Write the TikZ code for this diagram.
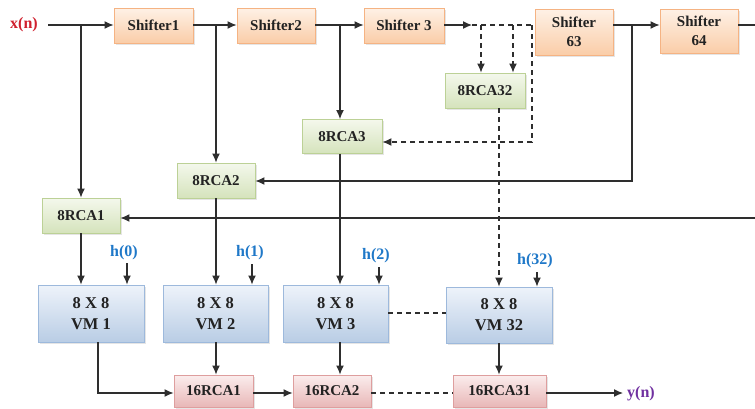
\documentclass[tikz,border=0pt]{standalone}
\usepackage{fontspec}
\setmainfont{Liberation Serif}
\usetikzlibrary{arrows.meta,shadows}
\definecolor{lnc}{HTML}{2E2E2E}
\definecolor{txc}{HTML}{222222}
\definecolor{xred}{HTML}{D0202E}
\definecolor{hblue}{HTML}{1F78C8}
\definecolor{ypur}{HTML}{7030A0}
\definecolor{orT}{HTML}{FEF1E6}
\definecolor{orB}{HTML}{FACDA8}
\definecolor{orD}{HTML}{F5B383}
\definecolor{grT}{HTML}{F4F8EC}
\definecolor{grB}{HTML}{D5E3BC}
\definecolor{grD}{HTML}{BCD196}
\definecolor{blT}{HTML}{EEF3FA}
\definecolor{blB}{HTML}{B9CDE5}
\definecolor{blD}{HTML}{9DB9DC}
\definecolor{pkT}{HTML}{FBEDED}
\definecolor{pkB}{HTML}{E8B7B7}
\definecolor{pkD}{HTML}{DE9E9E}
\tikzset{
  blk/.style={draw, line width=0.9pt, minimum height=35pt, inner sep=1pt, align=center, text=txc,
    font=\fontsize{15}{19}\selectfont\bfseries,
    drop shadow={shadow xshift=1.5pt, shadow yshift=-1.5pt, fill=black!20}},
  shbox/.style={blk, draw=orD, top color=orT, bottom color=orB},
  rca/.style={blk, draw=grD, top color=grT, bottom color=grB},
  vm/.style={blk, draw=blD, top color=blT, bottom color=blB, font=\fontsize{16.5}{21}\selectfont\bfseries},
  add/.style={blk, draw=pkD, top color=pkT, bottom color=pkB, minimum height=32pt},
  wire/.style={draw=lnc, line width=1.2pt, -{Latex[length=9pt,width=8pt]}},
  plain/.style={draw=lnc, line width=1.2pt},
  dwire/.style={wire, dash pattern=on 5pt off 4pt},
  dplain/.style={plain, dash pattern=on 5pt off 4pt},
  lbl/.style={font=\fontsize{16}{18}\selectfont\bfseries, inner sep=0pt}
}
\begin{document}
\begin{tikzpicture}[x=1pt,y=-1pt]
\useasboundingbox (0,0) rectangle (755,408);
% shifters
\node[shbox, minimum width=79pt] (s1) at (153.5,25.5) {Shifter1};
\node[shbox, minimum width=78pt] (s2) at (276,25.5) {Shifter2};
\node[shbox, minimum width=80pt] (s3) at (404,25.5) {Shifter 3};
\node[shbox, minimum width=78pt, minimum height=46pt] (s63) at (574,32) {Shifter\\63};
\node[shbox, minimum width=78pt, minimum height=44pt] (s64) at (699,31) {Shifter\\64};
% 8RCA
\node[rca, minimum width=80pt] (r32) at (485,90.5) {8RCA32};
\node[rca, minimum width=80pt, minimum height=34pt] (r3) at (342,136.5) {8RCA3};
\node[rca, minimum width=78pt] (r2) at (216,180.5) {8RCA2};
\node[rca, minimum width=78pt] (r1) at (81,215.5) {8RCA1};
% VMs
\node[vm, minimum width=106pt, minimum height=57pt] (v1) at (91,313.5) {8 X 8\\VM 1};
\node[vm, minimum width=105pt, minimum height=57pt] (v2) at (215.5,313.5) {8 X 8\\VM 2};
\node[vm, minimum width=105pt, minimum height=57pt] (v3) at (335.5,313.5) {8 X 8\\VM 3};
\node[vm, minimum width=106pt, minimum height=56pt] (v32) at (499,315) {8 X 8\\VM 32};
% 16RCA
\node[add, minimum width=79pt] (c1) at (213.5,391) {16RCA1};
\node[add, minimum width=78pt] (c2) at (332,391) {16RCA2};
\node[add, minimum width=93pt] (c31) at (499.5,391) {16RCA31};
% labels
\node[lbl, text=xred] (xn) at (24,25) {x(n)};
\node[lbl, text=hblue] (h0) at (124,253) {h(0)};
\node[lbl, text=hblue] (h1) at (250,253) {h(1)};
\node[lbl, text=hblue] (h2) at (376,256) {h(2)};
\node[lbl, text=hblue] (h32) at (535,261) {h(32)};
\node[lbl, text=ypur, anchor=west] (yn) at (627,394) {y(n)};
% coordinates
\coordinate (x0) at (48,25);
\coordinate (d0) at (472,25);
\coordinate (da) at (481,25);
\coordinate (db) at (513,25);
\coordinate (dc) at (532,25);
\coordinate (dd) at (532,142);
\coordinate (e63) at (613,25);
\coordinate (b63) at (632,25);
\coordinate (b63d) at (632,181);
\coordinate (e64) at (738,25);
\coordinate (rt1) at (755,25);
\coordinate (rt2) at (755,218);
\coordinate (vm1o) at (98,342);
\coordinate (vm1c) at (98,393);
\coordinate (yend) at (623,393);
\coordinate (h0a) at (127,263);
\coordinate (h1a) at (252,264);
\coordinate (h2a) at (379,267);
\coordinate (h32a) at (537,272);
% top chain
\draw[wire] (x0) -- (s1.west |- x0);
\draw[wire] (r1.north |- x0) -- (r1.north);
\draw[wire] (s1.east |- x0) -- (s2.west |- x0);
\draw[wire] (r2.north |- x0) -- (r2.north);
\draw[wire] (s2.east |- x0) -- (s3.west |- x0);
\draw[wire] ([xshift=-2pt]r3.north |- x0) -- ([xshift=-2pt]r3.north);
\draw[wire] (s3.east |- x0) -- (d0);
\draw[dplain] (d0) -- (s63.west |- x0);
\draw[dwire] (da) -- (da |- r32.north);
\draw[dwire] (db) -- (db |- r32.north);
\draw[dwire] (dc) -- (dd) -- (dd -| r3.east);
\draw[dwire] (v32.north |- r32.south) -- (v32.north);
\draw[wire] (e63) -- (s64.west |- x0);
\draw[wire] (b63) -- (b63d) -- (b63d -| r2.east);
\draw[plain] (e64) -- (rt1);
\draw[wire] (rt2) -- (rt2 -| r1.east);
% into VMs
\draw[wire] (r1.south) -- (r1.south |- v1.north);
\draw[wire] (h0a) -- (h0a |- v1.north);
\draw[wire] (r2.south) -- (r2.south |- v2.north);
\draw[wire] (h1a) -- (h1a |- v2.north);
\draw[wire] ([xshift=-2pt]r3.south) -- ([xshift=-2pt]r3.south |- v3.north);
\draw[wire] (h2a) -- (h2a |- v3.north);
\draw[wire] (h32a) -- (h32a |- v32.north);
\draw[dplain] (v3.east |- 0,313) -- (v32.west |- 0,313);
% into 16RCA
\draw[wire] (vm1o) -- (vm1c) -- (vm1c -| c1.west);
\draw[wire] ([xshift=0.5pt]v2.south) -- ([xshift=0.5pt]v2.south |- c1.north);
\draw[wire] (c1.east |- vm1c) -- (c2.west |- vm1c);
\draw[wire] ([xshift=4.5pt]v3.south) -- ([xshift=4.5pt]v3.south |- c2.north);
\draw[dplain] (c2.east |- vm1c) -- (c31.west |- vm1c);
\draw[wire] (v32.south) -- (v32.south |- c31.north);
\draw[wire] (c31.east |- vm1c) -- (yend);
\end{tikzpicture}
\end{document}
